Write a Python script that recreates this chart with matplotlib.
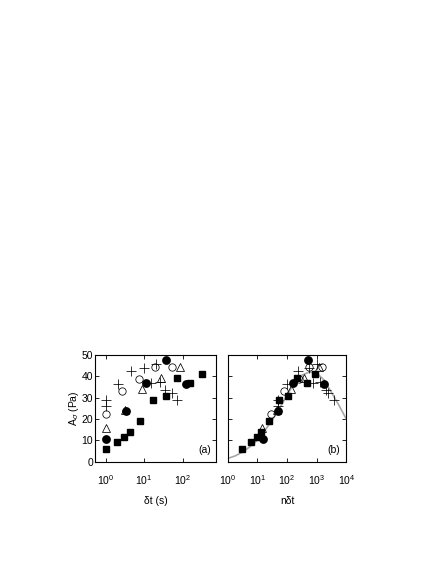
import matplotlib
matplotlib.use("Agg")
import matplotlib.pyplot as plt

plt.rcParams['font.family'] = ['Liberation Sans', 'DejaVu Sans']
plt.rcParams['mathtext.fontset'] = 'custom'
plt.rcParams['mathtext.rm'] = 'Liberation Sans'
plt.rcParams['mathtext.it'] = 'Liberation Sans:italic'
plt.rcParams['mathtext.sf'] = 'Liberation Sans'

# ---- panel (a): A_sigma vs delta t ----
a_sq_x = [1, 2, 3, 4.3, 8, 17, 37, 70, 155, 310]
a_sq_y = [5.8, 9, 11.6, 13.8, 19, 28.8, 31, 39, 36.7, 41]
a_fc_x = [1, 3.4, 11, 37, 120]
a_fc_y = [10.6, 23.8, 36.8, 47.7, 36.2]
a_oc_x = [1, 2.7, 7.3, 19, 52]
a_oc_y = [22.5, 33, 38.8, 44.5, 44.5]
a_tr_x = [1, 3.1, 9, 27, 85]
a_tr_y = [16, 24, 34, 39, 44.5]
a_pl_x = [1, 1, 2.1, 4.5, 9.9, 15, 20, 26, 35, 52, 70]
a_pl_y = [28.8, 26.3, 36.3, 42.3, 43.8, 37, 46, 37.2, 33.7, 32.4, 28.7]

# ---- panel (b): A_sigma vs n delta t ----
b_sq_x = [3.1, 6.1, 9.4, 12.8, 25, 54, 108, 210, 470, 900]
b_sq_y = [5.8, 9, 11.6, 13.8, 19, 28.8, 31, 39, 36.7, 41]
b_fc_x = [15.5, 50, 165, 520, 1750]
b_fc_y = [10.6, 23.8, 36.8, 47.7, 36.2]
b_oc_x = [29, 78, 250, 550, 1500]
b_oc_y = [22.5, 33, 38.8, 44.5, 44.5]
b_tr_x = [14, 46, 135, 390, 1200]
b_tr_y = [16, 24, 34, 39, 44.5]
b_pl_x = [50, 50, 102, 230, 550, 750, 1040, 1320, 2000, 2400, 3800]
b_pl_y = [28.8, 26.3, 36.3, 42.3, 43.8, 37, 46, 37.2, 33.7, 32.4, 28.7]

# gray fit curve
curve_x = [1, 1.78, 3.16, 5.62, 10, 17.8, 31.6, 56.2, 100, 178, 316, 562,
           1000, 1778, 3162, 5623, 10000]
curve_y = [1.5, 2.7, 4.5, 7.0, 10, 14.5, 19.5, 25, 31, 37, 40.5, 42,
           41.5, 38.3, 32.5, 26.5, 20]

yticks = [0, 10, 20, 30, 40, 50]

fig = plt.figure(figsize=(4.36, 5.64), dpi=100)
axA = fig.add_axes([0.2179, 0.1814, 0.2775, 0.1892])
axB = fig.add_axes([0.5222, 0.1814, 0.2720, 0.1892])

def draw(ax, sq, fc, oc, tr, pl):
    ax.plot(sq[0], sq[1], ls='none', marker='s', ms=3.8, mfc='black', mec='black', zorder=3)
    ax.plot(oc[0], oc[1], ls='none', marker='o', ms=5.3, mfc='none', mec='black', mew=0.55, zorder=4)
    ax.plot(tr[0], tr[1], ls='none', marker='^', ms=5.3, mfc='none', mec='black', mew=0.55, zorder=4)
    ax.plot(pl[0], pl[1], ls='none', marker='+', ms=7.0, mec='black', mew=0.55, zorder=4)
    ax.plot(fc[0], fc[1], ls='none', marker='o', ms=5.3, mfc='black', mec='black', zorder=5)

def style(ax):
    ax.set_xscale('log')
    ax.set_ylim(0, 50)
    ax.set_yticks(yticks)
    ax.minorticks_off()
    ax.tick_params(direction='in', top=True, right=True, length=3, width=0.6,
                   labelsize=7.5)
    ax.tick_params(axis='x', pad=8)
    ax.tick_params(axis='y', pad=1.5)
    for s in ax.spines.values():
        s.set_linewidth(0.8)

draw(axA, (a_sq_x, a_sq_y), (a_fc_x, a_fc_y), (a_oc_x, a_oc_y), (a_tr_x, a_tr_y), (a_pl_x, a_pl_y))
style(axA)
axA.set_xlim(0.53, 730)
axA.set_xticks([1, 10, 100])
axA.minorticks_off()
axA.set_xlabel('δt (s)', fontsize=7.5, labelpad=7)
axA.set_ylabel(r'A$_{\sigma}$ (Pa)', fontsize=7.5, labelpad=0.5)
axA.text(0.96, 0.06, '(a)', transform=axA.transAxes, ha='right', va='bottom', fontsize=7.5)

axB.plot(curve_x, curve_y, color='#a8a8a8', lw=1.2, zorder=2)
draw(axB, (b_sq_x, b_sq_y), (b_fc_x, b_fc_y), (b_oc_x, b_oc_y), (b_tr_x, b_tr_y), (b_pl_x, b_pl_y))
style(axB)
axB.set_xlim(1, 10000)
axB.set_xticks([1, 10, 100, 1000, 10000])
axB.minorticks_off()
axB.set_yticklabels([])
axB.set_xlabel('nδt', fontsize=7.5, labelpad=7)
axB.text(0.95, 0.06, '(b)', transform=axB.transAxes, ha='right', va='bottom', fontsize=7.5)

fig.savefig('out.png', dpi=100)
